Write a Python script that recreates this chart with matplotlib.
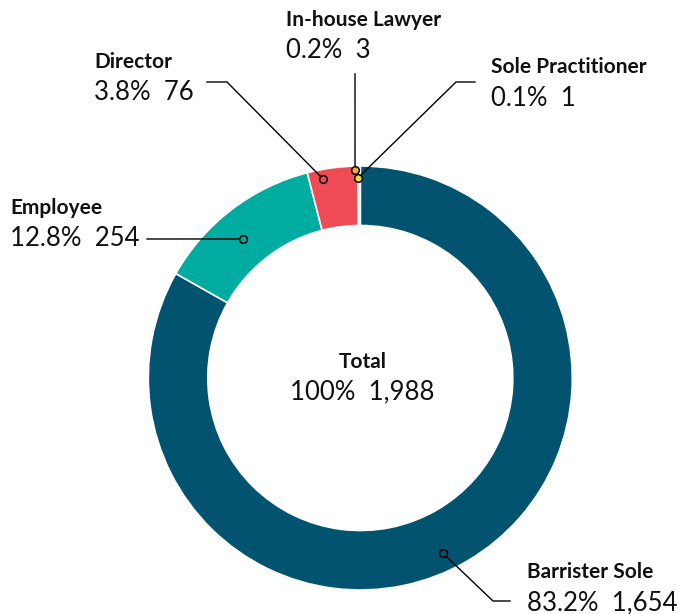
import matplotlib
matplotlib.use('Agg')
import numpy as np
import matplotlib.pyplot as plt

W, H = 686, 614

categories = ['Barrister Sole', 'Employee', 'Director', 'In-house Lawyer', 'Sole Practitioner']
counts = [1654, 254, 76, 3, 1]
pct_labels = ['83.2%', '12.8%', '3.8%', '0.2%', '0.1%']
count_labels = ['1,654', '254', '76', '3', '1']
total_label = ('100%', '1,988')
colors = ['#02536F', '#00AB9F', '#EF4B55', '#F6A83A', '#F6D23C']

CX, CY = 360.3, 378      # centre of the ring, pixels from top-left
R_OUT, R_IN = 212, 152.5

# layout for each callout: dot angle offset (deg, clockwise), dot radius,
# leader path (after the dot), text anchor
dot_offset = [5.0, -2.7, -3.0, -1.0, -0.6]
dot_radius = [193.6, 182, 202.5, 208, 200]
leader_paths = [
    [(493, 601), (510, 601)],
    [(147, 239)],
    [(227, 82), (207, 82)],
    [(355, 74)],
    [(456, 82), (475, 82)],
]
text_pos = [(527, 572), (10, 208), (94, 62), (286, 20), (491, 67)]
VAL_GAP = 31
LABEL_SIZE = 15
VALUE_SIZE = 18.5

plt.rcParams['font.family'] = ['Lato', 'DejaVu Sans']

fig = plt.figure(figsize=(W / 100, H / 100), dpi=100, facecolor='white')
ax = fig.add_axes([0, 0, 1, 1])


def py(y):
    return H - y


ax.pie(counts, colors=colors, startangle=90, counterclock=False,
       radius=R_OUT, center=(CX, py(CY)),
       wedgeprops=dict(width=R_OUT - R_IN, edgecolor='white', linewidth=1.2))
ax.set_xlim(0, W)
ax.set_ylim(0, H)
ax.set_aspect('equal')
ax.axis('off')

# callouts
total = sum(counts)
cum = np.cumsum([0] + counts)
for i, cat in enumerate(categories):
    mid = (cum[i] + cum[i + 1]) / 2 / total * 360 + dot_offset[i]
    theta = np.deg2rad(90 - mid)
    dx = CX + dot_radius[i] * np.cos(theta)
    dy = py(CY) + dot_radius[i] * np.sin(theta)
    xs = [dx] + [p[0] for p in leader_paths[i]]
    ys = [dy] + [py(p[1]) for p in leader_paths[i]]
    ax.plot(xs, ys, color='black', linewidth=1.0, zorder=3)
    ax.plot(dx, dy, marker='o', markersize=5.5, markerfacecolor=colors[i],
            markeredgecolor='black', markeredgewidth=1.1, zorder=4)

    tx, ty = text_pos[i]
    ax.text(tx, py(ty), cat, fontsize=LABEL_SIZE, fontweight='bold', color='#111111',
            ha='left', va='center')
    ax.text(tx, py(ty + VAL_GAP), f'{pct_labels[i]}  {count_labels[i]}',
            fontsize=VALUE_SIZE, fontweight='normal', color='#111111', ha='left', va='center')

ax.text(CX + 2, py(362), 'Total', fontsize=LABEL_SIZE, fontweight='bold', color='#111111',
        ha='center', va='center')
ax.text(CX + 2, py(392), f'{total_label[0]}  {total_label[1]}', fontsize=VALUE_SIZE,
        fontweight='normal', color='#111111', ha='center', va='center')

fig.savefig('out.png', dpi=100, facecolor='white')
